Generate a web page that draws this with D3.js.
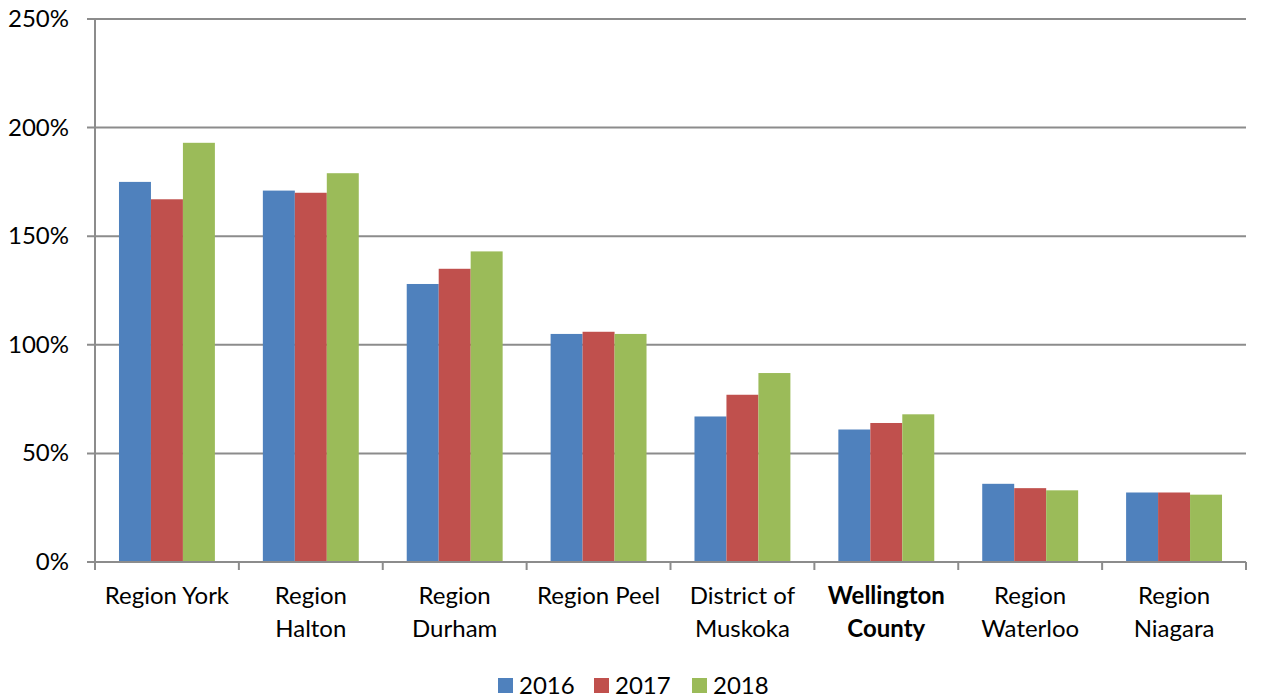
<!DOCTYPE html>
<html><head><meta charset="utf-8">
<script src="https://cdn.jsdelivr.net/npm/d3@7"></script>
<style>body{margin:0;background:#fff}svg{display:block;font-family:Lato,"Open Sans",sans-serif}</style>
</head><body><svg id="c" width="1261" height="698"></svg>
<script>
const categories = [["Region York"],["Region","Halton"],["Region","Durham"],["Region Peel"],["District of","Muskoka"],["Wellington","County"],["Region","Waterloo"],["Region","Niagara"]];
const boldCategory = 5;
const years = ["2016","2017","2018"];
const v2016 = [175,171,128,105,67,61,36,32];
const v2017 = [167,170,135,106,77,64,34,32];
const v2018 = [193,179,143,105,87,68,33,31];
const yTicks = [0,50,100,150,200,250];
const colors = ["#4f81bd","#c0504d","#9bbb59"];
const series = [v2016,v2017,v2018];

const svg = d3.select("#c");
const L=95,R=1246,T=19,B=562;
const FS=24;
const x = d3.scaleBand().domain(d3.range(categories.length)).range([L,R]);
const xs = d3.scaleBand().domain(d3.range(3)).range([0,x.bandwidth()]).paddingOuter(0.75).paddingInner(0);
const y = d3.scaleLinear().domain([0,250]).range([B,T]);
const grid="#8c8c8c";

svg.append("g").selectAll("line").data(yTicks).join("line")
  .attr("x1",L-8).attr("x2",R).attr("y1",d=>y(d)).attr("y2",d=>y(d))
  .attr("stroke",grid).attr("stroke-width",2);
svg.append("g").selectAll("text").data(yTicks).join("text")
  .attr("x",69).attr("y",d=>y(d)+8).attr("text-anchor","end")
  .attr("font-size",FS).attr("fill","#000").text(d=>d+"%");

series.forEach((s,si)=>{
  svg.append("g").selectAll("rect").data(s).join("rect")
    .attr("x",(d,i)=>x(i)+xs(si)).attr("width",xs.bandwidth())
    .attr("y",d=>y(d)).attr("height",d=>B-y(d))
    .attr("fill",colors[si]);
});

svg.append("line").attr("x1",L).attr("x2",L).attr("y1",T).attr("y2",B).attr("stroke",grid).attr("stroke-width",2);
svg.append("line").attr("x1",L).attr("x2",R).attr("y1",B).attr("y2",B).attr("stroke",grid).attr("stroke-width",2);
const ticks = d3.range(categories.length+1).map(i=>L+i*x.step());
svg.append("g").selectAll("line").data(ticks).join("line")
  .attr("x1",d=>d).attr("x2",d=>d).attr("y1",B).attr("y2",B+8).attr("stroke",grid).attr("stroke-width",2);

const lab = svg.append("g").selectAll("text").data(categories).join("text")
  .attr("text-anchor","middle").attr("font-size",FS).attr("fill","#000")
  .attr("font-weight",(d,i)=>i===boldCategory?"bold":"normal");
lab.each(function(d,i){
  d3.select(this).selectAll("tspan").data(d).join("tspan")
    .attr("x",x(i)+x.bandwidth()/2).attr("y",(t,j)=>604+j*33).text(t=>t);
});

const lg = svg.append("g");
const lx=[498,594,692];
years.forEach((yr,i)=>{
  lg.append("rect").attr("x",lx[i]).attr("y",678).attr("width",15).attr("height",15).attr("fill",colors[i]);
  lg.append("text").attr("x",lx[i]+21).attr("y",694).attr("font-size",FS).attr("fill","#000").text(yr);
});
</script></body></html>
